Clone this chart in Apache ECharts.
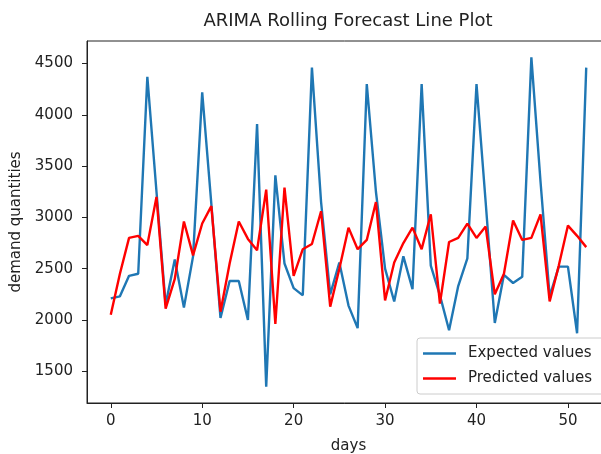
<!DOCTYPE html>
<html>
<head>
<meta charset="utf-8">
<script src="https://cdn.jsdelivr.net/npm/echarts@6/dist/echarts.min.js"></script>
<style>
  html, body { margin: 0; padding: 0; background: #fff; }
  #main { width: 601px; height: 454px; }
</style>
</head>
<body>
<div id="main"></div>
<script>
// expected (actual) demand per day
const expectedValues = [
  2210, 2230, 2430, 2450, 4370, 3250, 2150, 2590, 2120, 2620,
  4220, 3130, 2020, 2380, 2380, 2000, 3910, 1350, 3410, 2550,
  2310, 2240, 4460, 3150, 2250, 2560, 2140, 1920, 4300, 3250,
  2500, 2180, 2620, 2300, 4300, 2530, 2240, 1900, 2330, 2600,
  4300, 3150, 1970, 2440, 2360, 2420, 4560, 3350, 2230, 2520,
  2520, 1870, 4460
]
// ARIMA rolling predictions
const predictedValues = [
  2050, 2450, 2800, 2820, 2730, 3200, 2110, 2400, 2960, 2630,
  2940, 3110, 2080, 2550, 2960, 2790, 2680, 3270, 1960, 3290,
  2430, 2690, 2740, 3060, 2130, 2500, 2900, 2690, 2780, 3150,
  2190, 2560, 2750, 2900, 2690, 3030, 2160, 2760, 2800, 2940,
  2800, 2910, 2250, 2450, 2970, 2780, 2800, 3030, 2180, 2530,
  2920, 2820, 2710
]
const xTicks = [0, 10, 20, 30, 40, 50]
const yTicks = [1500, 2000, 2500, 3000, 3500, 4000, 4500]

const font = 'DejaVu Sans'
const ink = '#222'

const chart = echarts.init(document.getElementById('main'))
chart.setOption({
  animation: false,
  title: {
    text: 'ARIMA Rolling Forecast Line Plot',
    left: 348,
    top: 12,
    padding: 0,
    textAlign: 'center',
    textStyle: { fontFamily: font, fontSize: 18, fontWeight: 'normal', color: ink }
  },
  grid: {
    left: 87,
    top: 41,
    bottom: 51,
    right: -9,
    outerBoundsMode: 'none',
    containLabel: false,
    show: true,
    borderColor: ink,
    borderWidth: 1,
    backgroundColor: 'transparent'
  },
  legend: {
    orient: 'vertical',
    left: 417,
    top: 338,
    padding: [8, 40, 8, 6],
    itemGap: 10,
    itemWidth: 33,
    itemHeight: 2.5,
    icon: 'rect',
    backgroundColor: 'rgba(255,255,255,0.8)',
    borderColor: '#cccccc',
    borderWidth: 1,
    borderRadius: 3,
    textStyle: { fontFamily: font, fontSize: 15, color: ink, padding: [0, 0, 0, 7] },
    data: ['Expected values', 'Predicted values']
  },
  xAxis: {
    type: 'value',
    min: -2.6,
    max: 54.6,
    name: 'days',
    nameLocation: 'middle',
    nameGap: 36,
    nameTextStyle: { fontFamily: font, fontSize: 15, color: ink },
    axisLine: { show: true, onZero: false, lineStyle: { color: ink, width: 1 } },
    axisTick: { show: true, length: 5, lineStyle: { color: ink }, customValues: xTicks },
    axisLabel: { fontFamily: font, fontSize: 15, color: ink, margin: 11, customValues: xTicks },
    splitLine: { show: false }
  },
  yAxis: {
    type: 'value',
    min: 1190,
    max: 4720,
    name: 'demand quantities',
    nameLocation: 'middle',
    nameGap: 59,
    nameRotate: 90,
    nameTextStyle: { fontFamily: font, fontSize: 15, color: ink },
    axisLine: { show: true, onZero: false, lineStyle: { color: ink, width: 1 } },
    axisTick: { show: true, length: 5, lineStyle: { color: ink }, customValues: yTicks },
    axisLabel: {
      fontFamily: font, fontSize: 15, color: ink, margin: 14, customValues: yTicks,
      formatter: v => String(v)
    },
    splitLine: { show: false }
  },
  series: [
    {
      name: 'Expected values',
      type: 'line',
      symbol: 'none',
      color: '#1f77b4',
      lineStyle: { width: 2.4, color: '#1f77b4' },
      data: expectedValues.map((v, i) => [i, v])
    },
    {
      name: 'Predicted values',
      type: 'line',
      symbol: 'none',
      color: '#ff0000',
      lineStyle: { width: 2.4, color: '#ff0000' },
      data: predictedValues.map((v, i) => [i, v])
    }
  ]
})
</script>
</body>
</html>
